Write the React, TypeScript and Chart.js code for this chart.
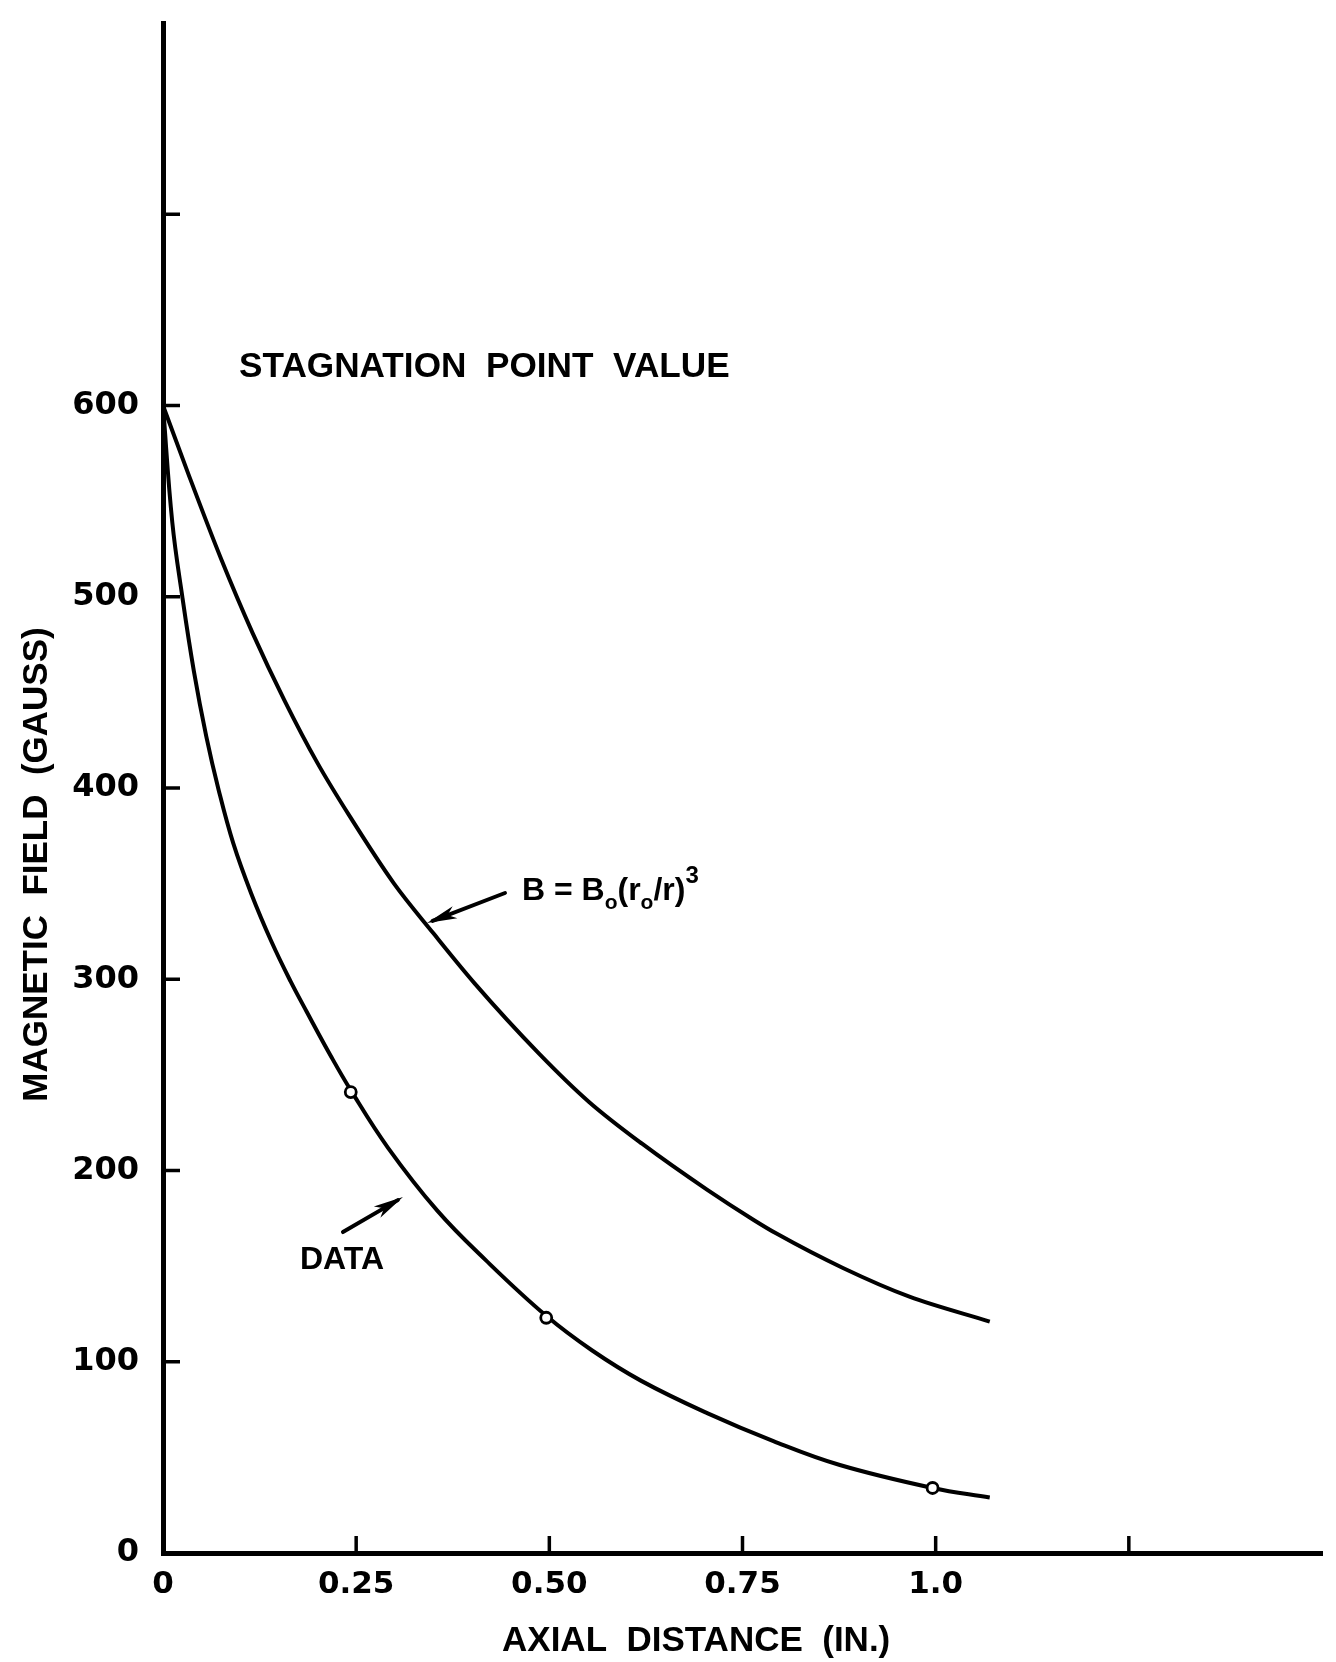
import React, { useEffect, useRef } from 'react';
import { Chart, registerables } from 'chart.js';

Chart.register(...registerables);

// ---- Axis ticks ----
const xTickValues = [0, 0.25, 0.5, 0.75, 1.0, 1.25, 1.5];
const xTickLabels = ['0', '0.25', '0.50', '0.75', '1.0', '', ''];
const yTickValues = [0, 100, 200, 300, 400, 500, 600, 700, 800];
const yTickLabels = ['0', '100', '200', '300', '400', '500', '600', '', ''];
const xTickMarks = [0.25, 0.5, 0.75, 1.0, 1.25];
const yTickMarks = [100, 200, 300, 400, 500, 600, 700];

// ---- Series: B = B0 (r0/r)^3 (theory curve) ----
const theoryX = [0, 0.033, 0.075, 0.116, 0.157, 0.2, 0.242, 0.299, 0.35, 0.403, 0.487, 0.551, 0.62, 0.704, 0.765, 0.794, 0.88, 0.966, 1.07];
const theoryY = [600, 564, 520, 481, 446, 413, 385, 350, 324, 298, 261, 236, 214, 190, 174, 167, 149, 134, 121];

// ---- Series: measured data curve ----
const dataCurveX = [0, 0.012, 0.025, 0.04, 0.056, 0.072, 0.091, 0.114, 0.14, 0.165, 0.186, 0.217, 0.243, 0.291, 0.355, 0.418, 0.496, 0.555, 0.619, 0.705, 0.79, 0.876, 0.996, 1.07];
const dataCurveY = [600, 539, 500, 461, 427, 399, 371, 345, 320, 299, 283, 260, 242, 212, 179, 153, 124, 106, 90, 73, 58.5, 46, 34, 29];

// ---- Series: measured points (open circles) ----
const measuredX = [0.243, 0.496, 0.996];
const measuredY = [241, 123, 34];

// ---- Text ----
const xAxisTitle = 'AXIAL  DISTANCE  (IN.)';
const yAxisTitle = 'MAGNETIC  FIELD  (GAUSS)';
const chartLabel = 'STAGNATION  POINT  VALUE';
const dataLabel = 'DATA';

// ---- Annotation anchors (data units) ----
const anchors = {
  chartLabel: { x: 0.0984, y: 620 },
  formula: { x: 0.4646, y: 341.5 },
  formulaArrowFrom: { x: 0.4426, y: 345.1 },
  formulaArrowTo: { x: 0.3417, y: 329.4 },
  dataLabel: { x: 0.1773, y: 153.2 },
  dataArrowFrom: { x: 0.2329, y: 167.8 },
  dataArrowTo: { x: 0.3106, y: 186.1 },
  xTitle: { x: 0.69 },
  yTitle: { y: 360 },
};

const LETTER_FONT = '"Liberation Sans", Arial, sans-serif';
const DIGIT_FONT = '"DejaVu Sans", sans-serif';

const toPoints = (xs: number[], ys: number[]) => xs.map((x, i) => ({ x, y: ys[i] }));

function drawArrow(ctx: CanvasRenderingContext2D, x1: number, y1: number, x2: number, y2: number) {
  const ang = Math.atan2(y2 - y1, x2 - x1);
  const headLen = 30;
  const headHalf = 6.5;
  ctx.lineWidth = 4;
  ctx.lineCap = 'round';
  ctx.beginPath();
  ctx.moveTo(x1, y1);
  ctx.lineTo(x2 - Math.cos(ang) * 6, y2 - Math.sin(ang) * 6);
  ctx.stroke();
  const bx = x2 - Math.cos(ang) * headLen;
  const by = y2 - Math.sin(ang) * headLen;
  const nx = -Math.sin(ang);
  const ny = Math.cos(ang);
  ctx.beginPath();
  ctx.moveTo(x2, y2);
  ctx.lineTo(bx + nx * headHalf, by + ny * headHalf);
  ctx.lineTo(bx + Math.cos(ang) * 8, by + Math.sin(ang) * 8);
  ctx.lineTo(bx - nx * headHalf, by - ny * headHalf);
  ctx.closePath();
  ctx.fill();
}

const annotationPlugin = {
  id: 'paperAnnotations',
  afterDraw(chart: any) {
    const ctx: CanvasRenderingContext2D = chart.ctx;
    const xs = chart.scales.x;
    const ys = chart.scales.y;
    const area = chart.chartArea;
    const px = (v: number) => xs.getPixelForValue(v);
    const py = (v: number) => ys.getPixelForValue(v);
    ctx.save();
    ctx.strokeStyle = '#000';
    ctx.fillStyle = '#000';

    // inward tick marks
    ctx.lineWidth = 3.5;
    ctx.lineCap = 'butt';
    yTickMarks.forEach((v) => {
      const y = py(v);
      ctx.beginPath();
      ctx.moveTo(area.left, y);
      ctx.lineTo(area.left + 17, y);
      ctx.stroke();
    });
    xTickMarks.forEach((v) => {
      const x = px(v);
      ctx.beginPath();
      ctx.moveTo(x, area.bottom);
      ctx.lineTo(x, area.bottom - 17);
      ctx.stroke();
    });

    // axis titles
    ctx.font = `bold 35px ${LETTER_FONT}`;
    ctx.textAlign = 'center';
    ctx.textBaseline = 'middle';
    ctx.fillText(xAxisTitle, px(anchors.xTitle.x), area.bottom + 88);
    ctx.save();
    ctx.translate(37, py(anchors.yTitle.y));
    ctx.rotate(-Math.PI / 2);
    ctx.fillText(yAxisTitle, 0, 0);
    ctx.restore();

    // chart label
    ctx.textAlign = 'left';
    ctx.font = `bold 35.2px ${LETTER_FONT}`;
    ctx.fillText(chartLabel, px(anchors.chartLabel.x), py(anchors.chartLabel.y));

    // DATA label + arrow
    ctx.font = `bold 32px ${LETTER_FONT}`;
    ctx.fillText(dataLabel, px(anchors.dataLabel.x), py(anchors.dataLabel.y));
    drawArrow(ctx, px(anchors.dataArrowFrom.x), py(anchors.dataArrowFrom.y), px(anchors.dataArrowTo.x), py(anchors.dataArrowTo.y));

    // formula B = B0 (r0/r)^3
    ctx.textBaseline = 'alphabetic';
    let fx = px(anchors.formula.x);
    const fy = py(anchors.formula.y);
    const pieces: Array<[string, number, number]> = [
      ['B = B', 32, 0],
      ['o', 21, 9],
      ['(r', 32, 0],
      ['o', 21, 9],
      ['/r)', 32, 0],
      ['3', 24, -17],
    ];
    pieces.forEach(([t, size, dy]) => {
      ctx.font = `bold ${size}px ${LETTER_FONT}`;
      ctx.fillText(t, fx, fy + dy);
      fx += ctx.measureText(t).width;
    });
    drawArrow(ctx, px(anchors.formulaArrowFrom.x), py(anchors.formulaArrowFrom.y), px(anchors.formulaArrowTo.x), py(anchors.formulaArrowTo.y));

    ctx.restore();
  },
};

export default function App() {
  const canvasRef = useRef<HTMLCanvasElement | null>(null);

  useEffect(() => {
    if (!canvasRef.current) return;
    const lineStyle = {
      showLine: true,
      borderColor: '#000',
      borderWidth: 4,
      pointRadius: 0,
      pointHoverRadius: 0,
      fill: false,
    };
    const chart = new Chart(canvasRef.current, {
      type: 'scatter',
      data: {
        datasets: [
          {
            label: 'Measured',
            data: toPoints(measuredX, measuredY),
            showLine: false,
            pointRadius: 5.5,
            pointBorderWidth: 2.8,
            pointBackgroundColor: '#fff',
            pointBorderColor: '#000',
          },
          {
            label: 'B = B0(r0/r)^3',
            data: toPoints(theoryX, theoryY),
            ...lineStyle,
            cubicInterpolationMode: 'monotone',
          },
          {
            label: 'Data',
            data: toPoints(dataCurveX, dataCurveY),
            ...lineStyle,
            cubicInterpolationMode: 'default',
            tension: 0.4,
          },
        ],
      },
      options: {
        responsive: false,
        animation: false,
        devicePixelRatio: 1,
        layout: { autoPadding: false, padding: { top: 23, right: 14, left: 0, bottom: 0 } },
        plugins: {
          legend: { display: false },
          tooltip: { enabled: false },
          title: { display: false },
        },
        scales: {
          x: {
            type: 'linear',
            min: 0,
            max: 1.5,
            afterBuildTicks: (s: any) => {
              s.ticks = xTickValues.map((v) => ({ value: v }));
            },
            ticks: {
              autoSkip: false,
              maxRotation: 0,
              padding: 13,
              color: '#000',
              font: { family: DIGIT_FONT, weight: 'bold', size: 31 },
              callback: (value: any) => {
                const i = xTickValues.findIndex((v) => Math.abs(v - Number(value)) < 1e-9);
                return i >= 0 ? xTickLabels[i] : '';
              },
            },
            grid: { display: false, drawTicks: false },
            border: { display: true, color: '#000', width: 5 },
            afterFit: (s: any) => {
              s.height = 109;
              s.paddingLeft = 0;
              s.paddingRight = 0;
            },
          },
          y: {
            type: 'linear',
            min: 0,
            max: 800,
            afterBuildTicks: (s: any) => {
              s.ticks = yTickValues.map((v) => ({ value: v }));
            },
            ticks: {
              autoSkip: false,
              padding: 24,
              color: '#000',
              font: { family: DIGIT_FONT, weight: 'bold', size: 32 },
              callback: (value: any) => {
                const i = yTickValues.indexOf(Number(value));
                return i >= 0 ? yTickLabels[i] : '';
              },
            },
            grid: { display: false, drawTicks: false },
            border: { display: true, color: '#000', width: 5 },
            afterFit: (s: any) => {
              s.width = 163;
              s.paddingTop = 0;
              s.paddingBottom = 0;
            },
          },
        },
      },
      plugins: [annotationPlugin],
    } as any);
    return () => chart.destroy();
  }, []);

  return (
    <div style={{ position: 'absolute', left: 0, top: 0, width: 1336, height: 1662, background: '#fff' }}>
      <canvas ref={canvasRef} width={1336} height={1662} style={{ display: 'block' }} />
    </div>
  );
}
